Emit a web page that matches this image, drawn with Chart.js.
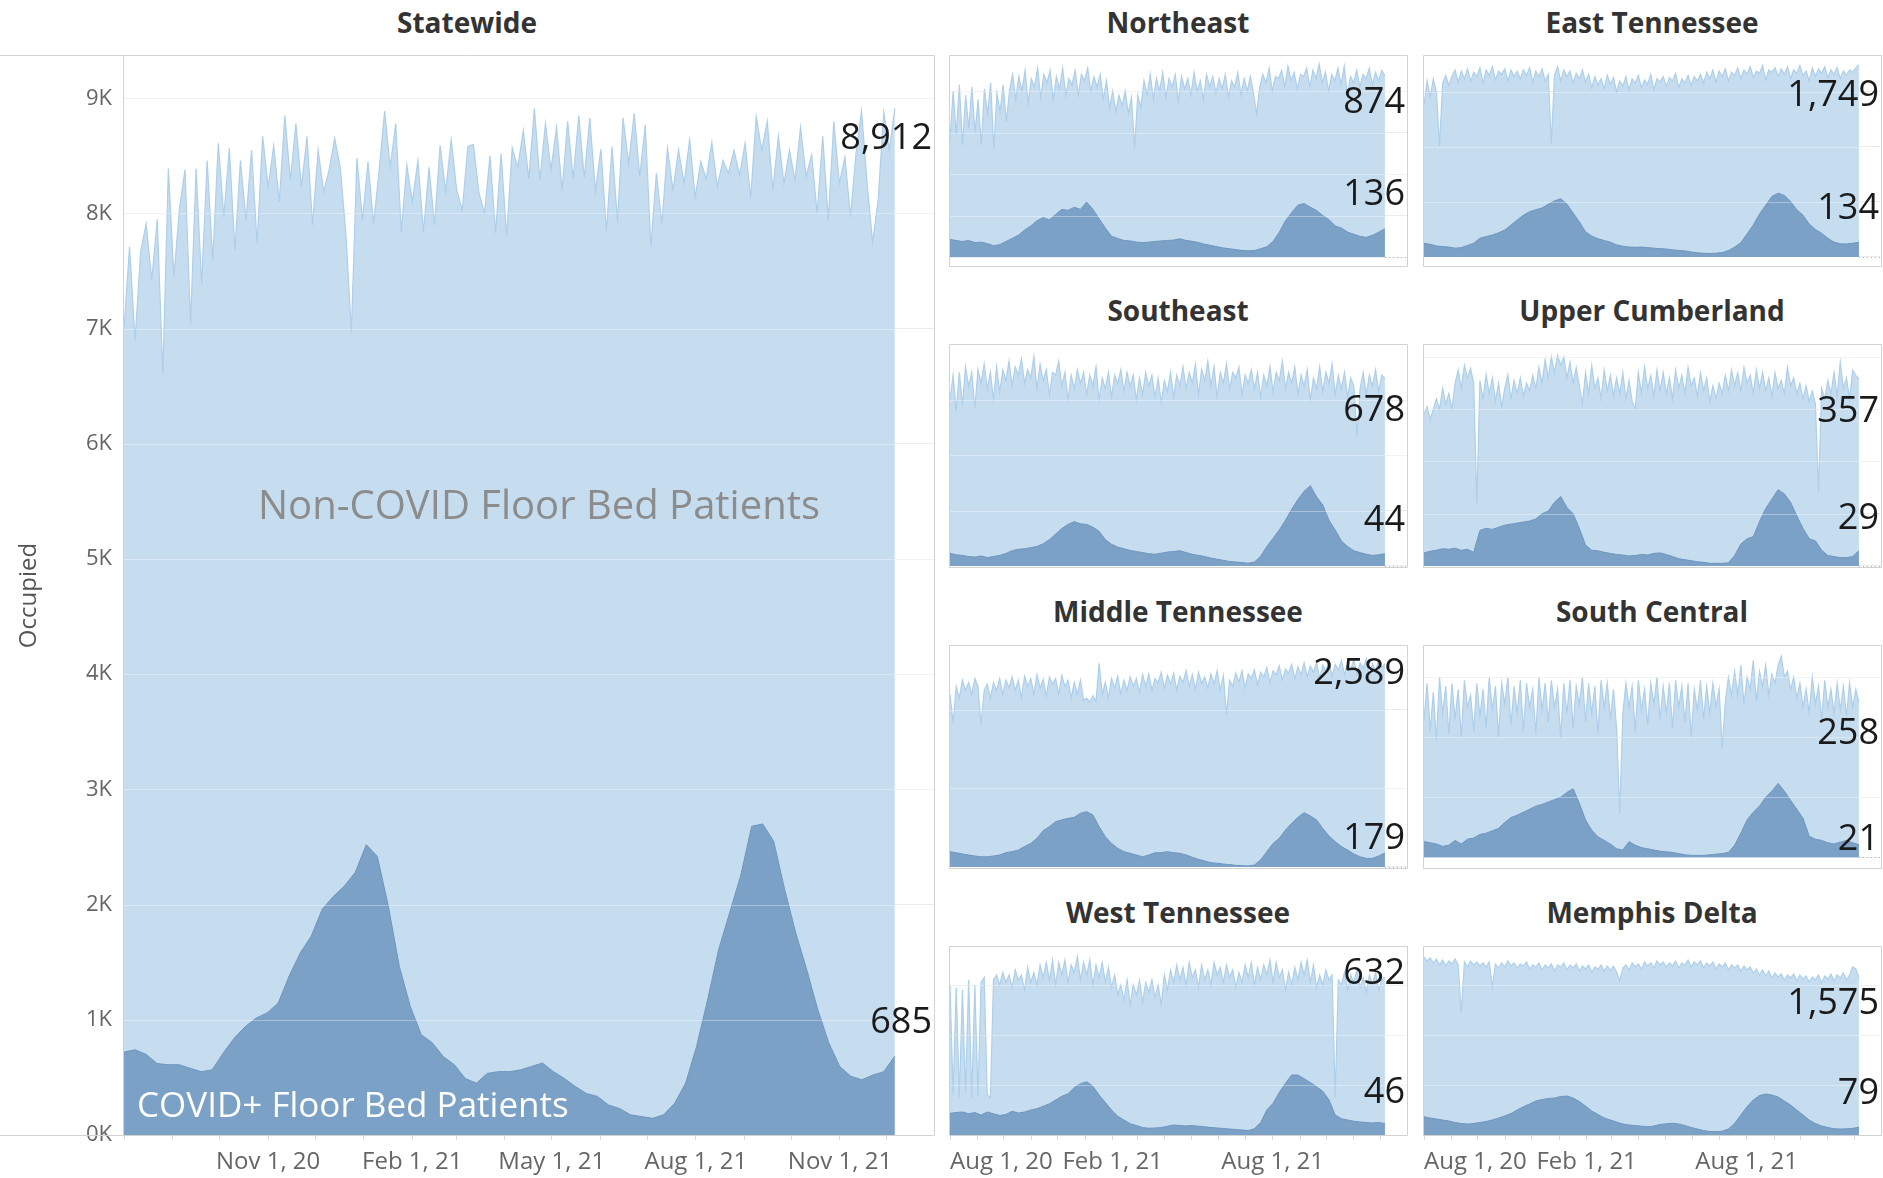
<!DOCTYPE html>
<html>
<head>
<meta charset="utf-8">
<script src="https://cdn.jsdelivr.net/npm/chart.js@4.4.1/dist/chart.umd.min.js"></script>
<style>
  html,body{margin:0;padding:0;background:#fff;}
  body{width:1883px;height:1178px;overflow:hidden;position:relative;font-family:'Open Sans',sans-serif;}
  .ptitle{position:absolute;transform:translate(-50%,-50%);font-weight:700;font-size:28px;color:#333;white-space:nowrap;}
  canvas{position:absolute;}
</style>
</head>
<body>
<script>
// ---------- DATA ----------
const firstDate = 'Aug 1, 2020';
const lastDay = 492; // last observation, days after Aug 1, 2020
const monthTickDays = [0,31,61,92,122,153,184,212,243,273,304,334,365,396,426,457,487];
const statewideTickLabels = ['','','','Nov 1, 20','','','Feb 1, 21','','','May 1, 21','','','Aug 1, 21','','','Nov 1, 21',''];
const regionTickLabels = ['Aug 1, 20','','','','','','Feb 1, 21','','','','','','Aug 1, 21','','','',''];
const statewideYTickLabels = ['0K','1K','2K','3K','4K','5K','6K','7K','8K','9K'];
const seriesNames = ['Non-COVID Floor Bed Patients','COVID+ Floor Bed Patients'];
const yAxisTitle = 'Occupied';
const panelTitles = ['Statewide','Northeast','East Tennessee','Southeast','Upper Cumberland','Middle Tennessee','South Central','West Tennessee','Memphis Delta'];

const statewideTotal = [7000,7710,6900,7670,7910,7420,7950,6600,8390,7450,
 8040,8380,7040,8390,7390,8460,7590,8610,7970,
 8565,7680,8460,7940,8550,7740,8670,8230,
 8590,8100,8850,8290,8780,8230,8670,7900,8550,
 8190,8380,8650,8400,7830,6970,8480,7940,
 8450,7910,8370,8890,8400,8780,7840,8420,8100,8460,
 7840,8400,7900,8590,8190,8640,8200,8030,8580,8600,8180,
 8000,8500,7830,8520,7800,8570,8400,8720,8300,
 8910,8290,8780,8380,8750,8200,8800,8300,8850,8310,
 8830,8190,8560,
 7850,8580,7930,8830,8430,8870,8320,8770,7710,8350,
 7910,8565,8200,8550,8260,8640,8140,8450,8300,8620,
 8230,8460,8350,8550,8330,8610,8130,8840,8550,8800,
 8200,8670,8260,8550,8290,8750,8320,8510,8000,8670,
 7940,8800,8260,8490,7970,8520,8890,8260,7750,8120,8880,8550,8912];
const statewideCovid = [720,740,700,620,610,610,580,550,565,710,
 840,940,1015,1060,1145,1380,1580,1725,1960,2070,
 2160,2280,2520,2420,1990,1465,1115,870,800,680,
 610,490,450,535,550,550,565,595,625,550,
 490,420,360,335,260,230,175,160,145,175,
 275,450,770,1175,1610,1930,2250,2680,2700,2550,
 2130,1755,1435,1090,800,595,510,480,520,550,685];

const northeastTotal = [560,800,590,830,540,780,620,820,600,760,540,810,690,840,520,790,700,830,650,
 800,880,760,870,800,900,740,860,820,910,770,880,840,900,760,870,810,910,780,860,830,
 900,780,880,850,910,800,870,820,880,760,850,720,800,700,780,730,800,690,770,
 524,
 780,720,850,780,880,760,860,800,890,770,860,820,880,750,870,810,860,780,890,800,850,760,880,820,870,790,860,810,880,770,850,820,890,780,860,800,870,790,
 690,
 820,880,840,910,800,870,860,900,820,920,850,890,810,880,870,910,820,900,860,930,840,890,800,880,850,910,830,920,780,870,840,900,820,880,860,910,830,890,850,900,874];
const northeastCovid = [85,80,75,80,70,72,65,55,60,75,
 90,105,130,150,175,190,180,205,230,225,
 240,230,265,230,185,140,100,90,80,78,
 72,70,72,75,78,80,82,88,80,76,
 70,62,56,50,44,40,36,32,30,32,
 40,50,75,120,175,215,250,258,240,225,
 200,180,150,140,120,110,100,95,105,120,136];

const eastTennesseeTotal = [1380,1600,1450,1620,1500,1010,
 1580,1650,1560,1640,1700,1590,1690,1620,1710,1600,1680,1640,1720,1580,1700,1650,1730,1610,1690,1660,1710,1600,1700,1640,1690,1620,1700,1650,1720,1590,1690,1640,1710,1600,1660,
 1030,
 1650,1730,1600,1700,1640,1690,1580,1670,1620,1700,1590,1660,1540,1640,1560,1620,1530,1650,1570,1630,1500,1600,1550,1640,1520,1620,1580,1650,1540,1610,1570,1660,1520,1620,1590,1640,1550,1630,1600,
 1670,1540,1620,1580,1650,1560,1640,1600,1660,1580,1680,1620,1700,1590,1690,1640,1710,1600,1680,1650,1720,1620,1700,1660,1730,1630,1690,1670,1740,1610,1700,1680,1720,1640,1710,1660,1730,1620,1700,1670,1740,1650,1690,1600,1720,1640,1710,1670,1730,1630,1700,1660,1720,1620,1690,1650,1700,1680,1720,1749];
const eastTennesseeCovid = [124,115,100,95,90,80,85,105,125,170,
 185,200,220,245,290,336,380,412,430,445,
 480,510,530,480,400,320,230,190,165,150,
 135,110,98,90,88,90,85,80,76,72,
 65,60,55,45,38,34,32,34,40,58,
 90,130,210,290,390,470,550,580,560,505,
 430,380,300,250,215,170,135,120,118,125,134];

const southeastTotal = [600,690,560,700,580,720,650,700,570,710,660,730,640,700,600,720,630,710,670,740,
 650,720,690,750,660,710,680,757,640,730,670,710,620,700,690,740,650,700,600,690,
 640,710,660,700,620,690,650,720,600,680,640,700,610,690,660,710,630,700,650,690,
 600,680,620,700,650,690,610,680,590,670,630,700,610,690,650,720,640,700,660,730,
 620,710,670,740,650,720,610,700,660,730,640,700,680,720,620,690,660,710,640,700,
 610,690,650,720,630,700,670,740,640,700,660,720,620,690,650,710,600,680,640,720,
 630,700,660,730,620,690,640,700,610,680,650,467,640,700,620,690,650,710,630,690,678];
const southeastCovid = [46,40,38,34,32,36,30,34,38,45,
 55,60,62,66,70,80,95,115,135,150,
 160,152,150,140,125,95,78,68,62,56,
 52,48,44,42,46,50,52,55,48,42,
 38,34,28,24,20,16,14,12,10,14,
 35,70,100,130,165,205,240,270,290,250,
 220,165,130,90,70,55,48,42,38,40,44];

const upperCumberlandTotal = [290,305,280,300,
 320,300,340,310,330,300,350,
 375,340,384,360,378,350,
 120,
 355,320,366,330,360,315,350,305,
 340,366,320,355,330,360,325,350,335,365,340,
 380,350,395,360,400,370,403,385,400,360,390,350,380,345,
 311,
 370,330,384,340,360,320,375,335,365,325,360,330,370,320,355,315,
 301,
 370,330,381,340,365,325,375,335,370,330,360,320,375,340,365,330,380,345,360,325,370,335,360,315,345,320,
 350,330,365,335,375,345,370,335,380,350,365,330,375,340,370,335,360,325,370,340,355,330,380,345,360,330,350,320,345,315,335,310,
 142,
 340,320,355,330,370,325,390,340,360,320,375,365,357];
const upperCumberlandCovid = [25,28,30,33,32,34,30,32,26,68,
 72,70,74,78,80,82,84,86,90,100,
 105,122,133,112,100,72,40,30,29,26,
 24,22,21,19,20,22,21,24,25,22,
 18,14,12,10,8,7,5,5,5,6,
 20,42,52,56,85,110,128,146,138,122,
 96,72,52,48,30,20,18,16,16,18,29];

const middleTennesseeTotal = [2200,1830,2300,2150,2380,2250,2350,2200,2400,2300,1810,2250,2330,2150,2350,2250,2400,2200,2380,2280,
 2420,2250,2380,2150,2430,2300,2400,2200,2450,2280,2390,2170,2420,2330,2400,2200,2440,2300,2380,2150,
 2350,2200,2380,2120,2150,2100,2180,2110,2594,2200,2350,2150,2400,2280,2430,2200,2380,2250,2420,2300,
 2400,2220,2450,2300,2460,2250,2400,2350,2480,2280,2440,2330,2470,2250,2430,2350,2500,2300,2450,2260,
 2480,2340,2420,2280,2460,2330,2500,2250,2440,1940,2380,2300,2470,2350,2500,2280,2460,2400,2510,2320,
 2480,2420,2540,2350,2500,2450,2560,2380,2520,2470,2580,2400,2550,2450,2600,2420,2560,2480,2610,2400,
 2570,2500,2620,2430,2580,2510,2630,2450,2590,2520,2640,2460,2600,2530,2650,2420,2590,2500,2630,2540,2589];
const middleTennesseeCovid = [195,182,166,153,140,130,130,140,153,182,
 195,216,260,300,365,463,514,577,600,620,
 632,684,705,662,514,386,300,238,195,174,
 153,130,153,182,182,195,182,174,153,123,
 98,76,55,47,38,30,21,17,13,25,
 90,195,300,365,471,556,632,692,650,600,
 490,395,323,260,216,166,130,110,110,140,179];

const southCentralTotal = [228,290,210,275,195,300,240,285,205,290,230,280,200,295,250,270,210,290,235,280,
 215,300,245,285,200,290,255,300,220,285,240,295,210,290,250,280,205,300,245,290,
 225,295,250,280,200,290,240,295,215,285,255,300,225,290,240,285,205,295,250,290,
 230,280,215,73,240,290,250,285,210,295,245,280,220,290,255,300,230,285,240,290,
 215,295,250,285,225,290,200,280,245,295,230,285,240,290,250,280,181,260,300,270,
 310,270,320,255,300,280,328,260,310,285,320,270,305,290,320,335,300,310,280,300,
 265,290,250,280,240,300,255,285,230,295,250,280,240,290,245,285,235,290,250,280,258];
const southCentralCovid = [26,24,22,18,20,28,22,30,32,38,
 40,44,48,58,66,70,75,80,85,88,
 92,96,100,108,114,90,62,45,34,28,
 22,14,12,26,20,16,14,12,10,9,
 8,6,4,3,3,3,4,5,6,8,
 20,40,62,75,85,100,110,123,110,95,
 80,65,35,30,28,24,22,25,28,24,21];

const westTennesseeTotal = [600,160,590,150,580,170,620,150,600,155,610,630,160,150,620,640,600,650,610,640,
 590,660,620,640,580,670,610,650,600,680,630,690,620,700,600,690,640,700,610,680,
 650,713,620,690,640,700,600,680,630,690,610,670,590,640,560,600,540,620,520,600,
 560,620,530,610,570,620,550,600,520,640,580,660,610,680,620,670,600,690,630,660,
 590,680,620,660,600,690,640,670,610,680,630,660,590,650,610,680,630,690,600,670,
 620,680,640,700,610,690,630,660,580,650,600,670,620,690,640,700,610,680,590,640,
 600,660,620,640,150,620,600,650,580,640,610,660,590,630,570,640,600,650,580,620,632];
const westTennesseeCovid = [87,90,92,85,90,80,92,85,78,82,
 95,88,92,100,105,115,125,140,155,165,
 190,205,213,195,160,130,100,75,60,45,
 38,30,27,28,30,35,40,38,36,38,
 35,33,30,28,26,24,22,20,18,25,
 50,100,127,170,207,240,240,225,210,193,
 175,140,80,65,60,55,52,50,48,50,46];

const memphisDeltaTotal = [1780,1740,1770,1720,1760,1700,1750,1690,1740,1710,1760,1700,1220,1730,1680,1740,1700,1730,1690,1720,
 1680,1730,1480,1710,1670,1720,1680,1740,1690,1720,1670,1710,1690,1730,1660,1700,1680,1720,1650,1700,
 1670,1710,1640,1700,1680,1720,1650,1700,1670,1710,1640,1690,1660,1700,1630,1680,1660,1700,1640,1690,
 1650,1690,1630,1540,1670,1700,1650,1720,1680,1710,1660,1730,1690,1720,1670,1740,1700,1730,1680,1720,
 1690,1740,1670,1720,1700,1750,1680,1730,1700,1740,1670,1720,1690,1730,1660,1710,1680,1720,1650,1700,
 1670,1700,1640,1690,1650,1680,1620,1660,1600,1650,1590,1640,1570,1620,1580,1610,1550,1600,1570,1610,
 1540,1600,1560,1590,1530,1580,1550,1600,1520,1590,1560,1610,1540,1600,1570,1620,1550,1600,1680,1660,1575];
const memphisDeltaCovid = [183,170,160,150,140,125,115,110,115,125,
 135,150,170,190,215,250,283,310,340,355,
 365,370,385,390,370,335,290,240,205,170,
 150,130,110,100,95,88,83,90,105,112,
 117,110,95,75,60,45,35,33,38,60,
 117,200,283,350,395,410,400,380,340,300,
 250,200,150,115,90,75,62,60,62,66,79];

// ---------- LAYOUT / STYLE (page pixels) ----------
const panels = [
  {title:0, total:statewideTotal, covid:statewideCovid, big:true, left:124, top:56, right:934, bottom:1135, yMin:0, yMax:9367, yStep:1000, dyTotal:30, dyCovid:-33, tx:467, ty:22},
  {title:1, total:northeastTotal, covid:northeastCovid, left:950, top:56, right:1407, bottom:266, yMin:-43, yMax:969, yStep:200, dyTotal:27, dyCovid:-34, tx:1178, ty:22},
  {title:2, total:eastTennesseeTotal, covid:eastTennesseeCovid, left:1424, top:56, right:1881, bottom:266, yMin:-82, yMax:1827, yStep:500, dyTotal:31, dyCovid:-33, tx:1652, ty:22},
  {title:3, total:southeastTotal, covid:southeastCovid, left:950, top:345, right:1407, bottom:567, yMin:-4, yMax:799, yStep:200, dyTotal:32, dyCovid:-33, tx:1178, ty:310},
  {title:4, total:upperCumberlandTotal, covid:upperCumberlandCovid, left:1424, top:345, right:1881, bottom:567, yMin:-2, yMax:423, yStep:100, dyTotal:32, dyCovid:-32, tx:1652, ty:310},
  {title:5, total:middleTennesseeTotal, covid:middleTennesseeCovid, left:950, top:646, right:1407, bottom:868, yMin:-13, yMax:2815, yStep:1000, dyTotal:10, dyCovid:-14, tx:1178, ty:611},
  {title:6, total:southCentralTotal, covid:southCentralCovid, left:1424, top:646, right:1881, bottom:868, yMin:-18, yMax:352, yStep:100, dyTotal:31, dyCovid:-5, tx:1652, ty:611},
  {title:7, total:westTennesseeTotal, covid:westTennesseeCovid, left:950, top:947, right:1407, bottom:1135, yMin:0, yMax:752, yStep:200, dyTotal:-3, dyCovid:-31, tx:1178, ty:912, xAxis:true},
  {title:8, total:memphisDeltaTotal, covid:memphisDeltaCovid, left:1424, top:947, right:1881, bottom:1135, yMin:0, yMax:1880, yStep:500, dyTotal:26, dyCovid:-33, tx:1652, ty:912, xAxis:true}
];
const xMax = 517;
const COLORS = {totalFill:'#c6ddf0', totalLine:'#aecfea', covidFill:'#7ba1c6', covidLine:'#6e96bf',
  border:'#d2d2d2', grid:'#ececec', gridOver:'rgba(255,255,255,0.35)', tick:'#666666', label:'#1a1a1a', note:'#8c8c8c'};

Chart.defaults.font.family = "'Open Sans', sans-serif";

function toPoints(vals){
  const n = vals.length;
  return vals.map((v,i)=>({x: i*lastDay/(n-1), y: v}));
}
function zeroPad(s){ s.paddingLeft = 0; s.paddingRight = 0; s.paddingTop = 0; s.paddingBottom = 0; }

const decoPlugin = {
  id:'deco',
  afterDatasetsDraw(chart, args, o){
    const {ctx, chartArea:a} = chart;
    const ys = chart.scales.y, xs = chart.scales.x;
    ctx.save();
    // faint grid lines on top of the filled areas
    ctx.strokeStyle = COLORS.gridOver; ctx.lineWidth = 1;
    ctx.beginPath();
    ys.ticks.forEach(t=>{
      if (t.value <= 0) return;
      const y = Math.round(ys.getPixelForValue(t.value)) + 0.5;
      if (y < a.top + 1) return;
      ctx.moveTo(a.left, y); ctx.lineTo(a.right, y);
    });
    ctx.stroke();
    // dotted zero line beyond the last observation
    if (ys.min < 0){
      const y0 = Math.round(ys.getPixelForValue(0)) + 0.5;
      ctx.strokeStyle = '#b0b0b0'; ctx.setLineDash([1,3]);
      ctx.beginPath(); ctx.moveTo(xs.getPixelForValue(lastDay), y0); ctx.lineTo(a.right, y0); ctx.stroke();
      ctx.setLineDash([]);
    }
    ctx.strokeStyle = COLORS.border; ctx.lineWidth = 1;
    ctx.beginPath();
    if (o.big){
      ctx.moveTo(0, a.top-0.5); ctx.lineTo(a.right+0.5, a.top-0.5);
      ctx.moveTo(a.right+0.5, a.top-0.5); ctx.lineTo(a.right+0.5, a.bottom+0.5);
      ctx.moveTo(0, a.bottom+0.5); ctx.lineTo(a.right+0.5, a.bottom+0.5);
      ctx.moveTo(a.left-0.5, a.top-0.5); ctx.lineTo(a.left-0.5, a.bottom+0.5);
      ctx.stroke();
      ctx.textBaseline = 'middle';
      ctx.font = "40px 'Open Sans'"; ctx.fillStyle = COLORS.note; ctx.textAlign = 'center';
      ctx.fillText(seriesNames[0], 539 - o.cx, 508 - o.cy);
      ctx.font = "35px 'Open Sans'"; ctx.fillStyle = '#ffffff'; ctx.textAlign = 'left';
      ctx.fillText(seriesNames[1], 137 - o.cx, 1107 - o.cy);
    } else {
      ctx.rect(a.left-0.5, a.top-0.5, a.width+1, a.height+1);
      ctx.stroke();
    }
    ctx.font = "36px 'Open Sans'"; ctx.fillStyle = COLORS.label;
    ctx.textAlign = 'right'; ctx.textBaseline = 'middle';
    chart.data.datasets.forEach((ds,i)=>{
      const meta = chart.getDatasetMeta(i);
      const el = meta.data[meta.data.length-1];
      const v = ds.data[ds.data.length-1].y;
      const dy = ds.role === 'total' ? o.dyTotal : o.dyCovid;
      ctx.fillText(v.toLocaleString('en-US'), a.right - 2, el.y + dy);
    });
    ctx.restore();
  }
};

panels.forEach(p=>{
  const t = document.createElement('div');
  t.className = 'ptitle'; t.textContent = panelTitles[p.title];
  t.style.left = p.tx + 'px'; t.style.top = p.ty + 'px';
  document.body.appendChild(t);

  const showX = !!(p.big || p.xAxis);
  const padTop = p.big ? 6 : 2;
  const axisH = 43;
  const cx = p.big ? 0 : p.left - 2;
  const cy = p.top - padTop;
  const cw = p.big ? p.right + 2 : (p.right - p.left) + 4;
  const ch = (p.bottom - p.top) + padTop + (showX ? axisH : 2);
  const cv = document.createElement('canvas');
  cv.width = cw; cv.height = ch;
  cv.style.left = cx + 'px'; cv.style.top = cy + 'px';
  cv.style.width = cw + 'px'; cv.style.height = ch + 'px';
  document.body.appendChild(cv);

  const xLabels = p.big ? statewideTickLabels : regionTickLabels;
  new Chart(cv.getContext('2d'), {
    type:'line',
    data:{datasets:[
      {role:'covid', label:seriesNames[1], data:toPoints(p.covid), fill:'origin',
       backgroundColor:COLORS.covidFill, borderColor:COLORS.covidLine, borderWidth:1, pointRadius:0, tension:0, order:0},
      {role:'total', label:seriesNames[0], data:toPoints(p.total), fill:'origin',
       backgroundColor:COLORS.totalFill, borderColor:COLORS.totalLine, borderWidth:1.2, pointRadius:0, tension:0, order:1}
    ]},
    options:{
      responsive:false, animation:false, devicePixelRatio:1,
      layout:{autoPadding:false, padding: p.big ? {top:6,right:2,bottom:0,left:0} : {top:2,right:2,bottom: showX?0:2,left:2}},
      plugins:{legend:{display:false}, tooltip:{enabled:false},
        deco:{big:!!p.big, cx:cx, cy:cy, dyTotal:p.dyTotal, dyCovid:p.dyCovid}},
      scales:{
        x:{type:'linear', min:0, max:xMax, display:showX,
          afterBuildTicks:s=>{ s.ticks = monthTickDays.map(v=>({value:v})); },
          afterFit:s=>{ s.height = showX ? axisH : 0; zeroPad(s); },
          ticks:{autoSkip:false, maxRotation:0, minRotation:0, padding:8, color:COLORS.tick,
            font:{size:24}, align: p.big ? 'center' : 'inner',
            callback:(v,i)=> xLabels[i] || ''},
          grid:{drawOnChartArea:false, drawTicks:true, tickLength:5, color:'#dadada'},
          border:{display:false}},
        y:{type:'linear', min:p.yMin, max:p.yMax, display:true,
          afterBuildTicks:s=>{ const t=[]; for(let k=0;k*p.yStep<=p.yMax;k++) t.push({value:k*p.yStep}); s.ticks=t; },
          afterFit:s=>{ s.width = p.big ? 124 : 0; zeroPad(s); },
          ticks:{display:!!p.big, padding:12, color:COLORS.tick, font:{size:22},
            callback:(v,i)=> statewideYTickLabels[i]},
          title:{display:!!p.big, text:yAxisTitle, color:'#555', font:{size:24}, padding:{top:15,bottom:0}},
          grid:{color:COLORS.grid, drawTicks:false, lineWidth:1},
          border:{display:false}}
      }
    },
    plugins:[decoPlugin]
  });
});
</script>
</body>
</html>
